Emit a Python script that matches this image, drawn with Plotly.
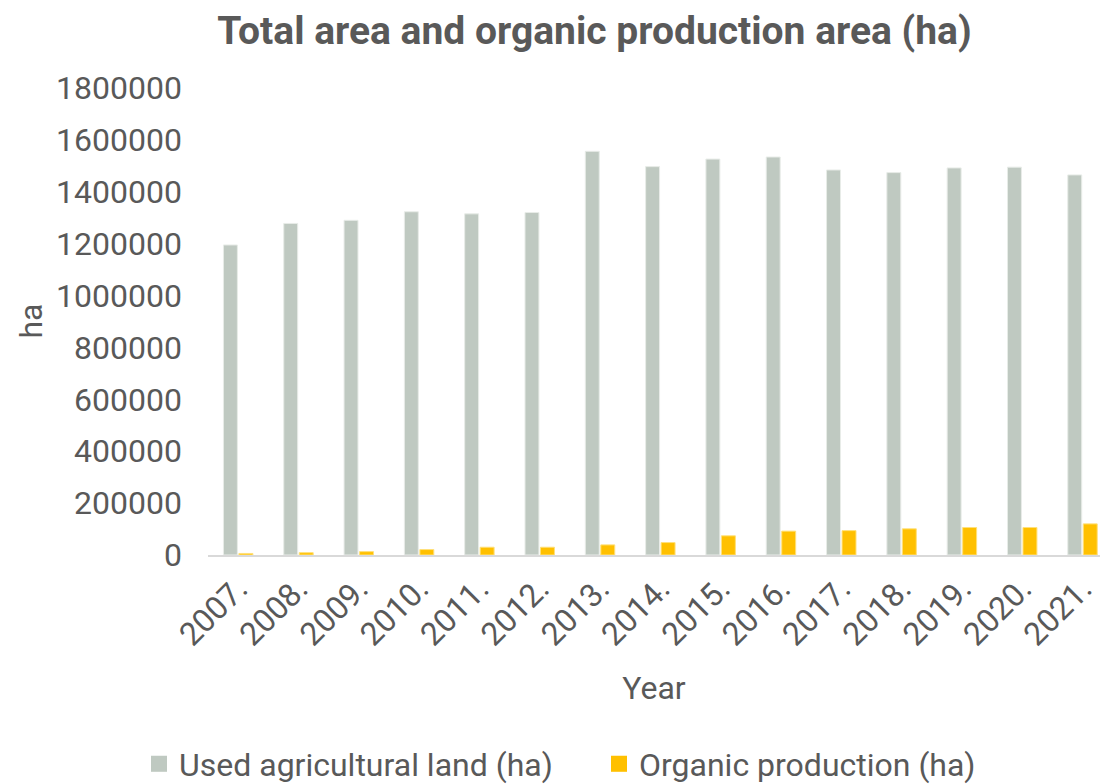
import plotly.graph_objects as go

years = ["2007.", "2008.", "2009.", "2010.", "2011.", "2012.", "2013.", "2014.",
         "2015.", "2016.", "2017.", "2018.", "2019.", "2020.", "2021."]
used_land = [1195000, 1278000, 1290000, 1323000, 1315000, 1320000, 1556000, 1497000,
             1526000, 1534000, 1484000, 1474000, 1492000, 1495000, 1465000]
organic = [6000, 9000, 13000, 21000, 30000, 30000, 39000, 48000,
           74000, 92000, 94000, 101000, 106000, 106000, 120000]
y_ticks = [0, 200000, 400000, 600000, 800000, 1000000, 1200000, 1400000, 1600000, 1800000]

TXT = "#595959"
FONT = "Roboto"
FS = 32
GREY = "#BFC9C1"
GOLD = "#FFC000"

fig = go.Figure()
fig.add_trace(go.Bar(x=years, y=used_land, name="Used agricultural land (ha)", showlegend=False,
                     marker=dict(color=GREY, line=dict(color="#E8ECE8", width=1))))
fig.add_trace(go.Bar(x=years, y=organic, name="Organic production (ha)", showlegend=False,
                     marker=dict(color=GOLD, line=dict(color="#FFE07A", width=1))))
# legend entries (square keys)
fig.add_trace(go.Scatter(x=[None], y=[None], mode="markers", name="Used agricultural land (ha)",
                         marker=dict(symbol="square", size=18, color=GREY), legend="legend"))
fig.add_trace(go.Scatter(x=[None], y=[None], mode="markers", name="Organic production (ha)",
                         marker=dict(symbol="square", size=18, color=GOLD), legend="legend2"))

leg_common = dict(xref="container", yref="container", y=20 / 784, yanchor="middle",
                  xanchor="left", font=dict(size=FS, color=TXT), itemwidth=30,
                  bgcolor="rgba(0,0,0,0)")

fig.update_layout(
    width=1109, height=784,
    paper_bgcolor="white", plot_bgcolor="white",
    font=dict(family=FONT, color=TXT, size=FS),
    title=dict(text="<b>Total area and organic production area (ha)</b>",
               font=dict(family=FONT, size=39, color=TXT),
               x=0.536, xanchor="center", xref="container",
               y=1 - 30 / 784, yanchor="middle", yref="container"),
    margin=dict(l=208, r=9, t=88, b=229, autoexpand=False),
    barmode="group", bargap=0.486, bargroupgap=0.1,
    showlegend=True,
    legend=dict(x=139 / 1109, **leg_common),
    legend2=dict(x=599 / 1109, **leg_common),
    annotations=[dict(text="ha", textangle=-90, xref="paper", yref="paper",
                      x=-178 / 892, y=0.5, xanchor="center", yanchor="middle",
                      showarrow=False, font=dict(size=FS, color=TXT))],
)
fig.update_xaxes(
    range=[-0.5, 14.29], tickangle=-45, showgrid=False,
    showline=True, linecolor="#D9D9D9", linewidth=2,
    ticks="", tickfont=dict(size=FS, color=TXT),
    title=dict(text="Year", font=dict(size=FS, color=TXT), standoff=24),
    automargin=False,
)
fig.update_yaxes(
    range=[0, 1800000], tickvals=y_ticks, ticktext=[str(v) for v in y_ticks],
    showgrid=False, zeroline=False, showline=False,
    ticks="", tickfont=dict(size=FS, color=TXT), ticklabelstandoff=25,
    automargin=False,
)

fig.write_html("out.html", config={"displayModeBar": False},
               post_script="document.body.style.margin='0px';")
